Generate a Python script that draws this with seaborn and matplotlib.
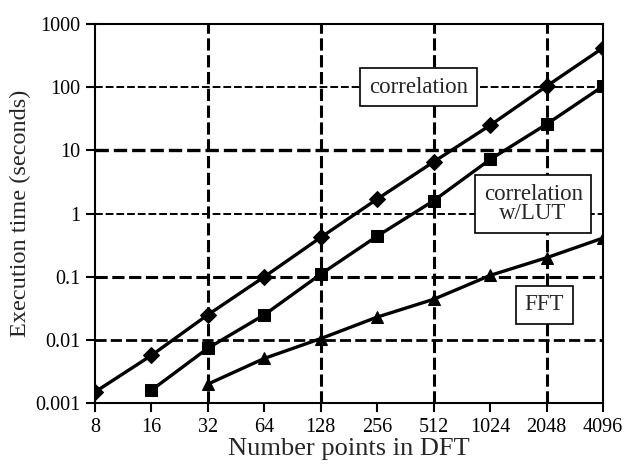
import matplotlib
matplotlib.use("Agg")
import matplotlib.pyplot as plt
import seaborn as sns
import pandas as pd

n_points = [8, 16, 32, 64, 128, 256, 512, 1024, 2048, 4096]
tick_labels = ["8", "16", "32", "64", "128", "256", "512", "1024", "2048", "4096"]

corr_n = [8, 16, 32, 64, 128, 256, 512, 1024, 2048, 4096]
corr_t = [0.0015, 0.0057, 0.025, 0.1, 0.42, 1.7, 6.6, 25, 104, 420]

lut_n = [16, 32, 64, 128, 256, 512, 1024, 2048, 4096]
lut_t = [0.0016, 0.0074, 0.025, 0.11, 0.44, 1.6, 7.2, 26, 104]

fft_n = [32, 64, 128, 256, 512, 1024, 2048, 4096]
fft_t = [0.002, 0.0051, 0.0105, 0.023, 0.044, 0.105, 0.2, 0.41]

y_ticks = [0.001, 0.01, 0.1, 1, 10, 100, 1000]
y_tick_labels = ["0.001", "0.01", "0.1", "1", "10", "100", "1000"]

sns.set_style("ticks")
plt.rcParams['font.family'] = ['Liberation Serif', 'DejaVu Serif']

fig = plt.figure(figsize=(6.25, 4.66), dpi=100)
ax = fig.add_axes([0.152, 0.135, 0.813, 0.8135])

series = [
    ("correlation", corr_n, corr_t, "D", 8),
    ("correlation w/LUT", lut_n, lut_t, "s", 9),
    ("FFT", fft_n, fft_t, "^", 9),
]
for name, xs, ys, mk, ms in series:
    df = pd.DataFrame({"N": xs, "t": ys})
    sns.lineplot(data=df, x="N", y="t", ax=ax, color="black", linewidth=2.4,
                 marker=mk, markersize=ms, markeredgecolor="black",
                 markerfacecolor="black", zorder=5)

ax.set_xscale("log", base=2)
ax.set_yscale("log")
ax.set_xlim(8, 4096)
ax.set_ylim(0.001, 1000)
ax.set_xticks(n_points)
ax.set_xticklabels(tick_labels)
ax.set_yticks(y_ticks)
ax.set_yticklabels(y_tick_labels)
ax.minorticks_off()

# grid
for xv in [32, 128, 512, 2048]:
    ax.axvline(xv, color="black", lw=2.2, ls=(0, (4, 1.5)), zorder=1)
for yv, lw in [(100, 1.4), (10, 2.4), (1, 1.4), (0.1, 2.2), (0.01, 2.0)]:
    ax.axhline(yv, color="black", lw=lw, ls=(0, (4, 1.5)), zorder=1)

for s in ax.spines.values():
    s.set_linewidth(1.5)
    s.set_color("black")
ax.tick_params(axis="both", direction="out", length=6.5, width=1.5,
               labelsize=14.5, colors="black", pad=4)

ax.set_xlabel("Number points in DFT", fontsize=19, labelpad=1)
ax.set_ylabel("Execution time (seconds)", fontsize=17.5, labelpad=3)

box = dict(boxstyle="square,pad=0.38", facecolor="white", edgecolor="black", linewidth=1.2)
ax.text(425, 100, "correlation", fontsize=16.5, ha="center", va="center", bbox=box, zorder=6)
ax.text(1735, 1.41, "correlation\nw/LUT", fontsize=16.5, ha="center", va="center",
        bbox=box, zorder=6, linespacing=0.9)
ax.text(1985, 0.036, "FFT", fontsize=16.5, ha="center", va="center", bbox=box, zorder=6)

fig.savefig("out.png", dpi=100, facecolor="white")
